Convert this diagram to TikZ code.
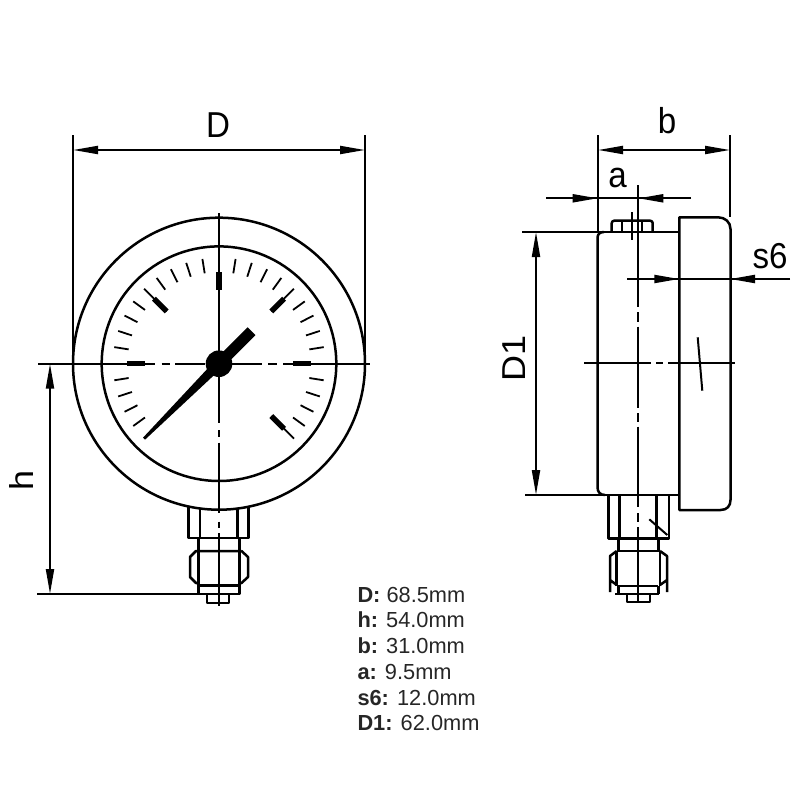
\documentclass[tikz,border=0pt]{standalone}
\usepackage{fontspec}
\setmainfont{Liberation Sans}
\usetikzlibrary{arrows.meta,calc}
\tikzset{
  x=1pt,y=-1pt,
  part/.style={line width=2.5pt,line join=round},
  thinpart/.style={line width=2pt,line join=round},
  axis/.style={line width=2pt},
  dimline/.style={line width=2pt,{Triangle[length=25pt,width=8pt]}-{Triangle[length=25pt,width=8pt]}},
  extline/.style={line width=2pt},
  outarrow/.style={line width=2pt,-{Triangle[length=25pt,width=8pt]}},
  dimtext/.style={font=\fontsize{36}{36}\selectfont,inner sep=0pt,anchor=base,xscale=.92},
  spec/.style={font=\fontsize{21.8}{21.8}\selectfont,inner sep=0pt,anchor=base west,text=black!85},
  tick/.style={line width=1.8pt},
  major/.style={line width=5.5pt},
}
\begin{document}
\begin{tikzpicture}
\useasboundingbox (0,0) rectangle (800,800);
% named points
\coordinate (c) at (219,363.7);
\coordinate (dl) at (73,150); \coordinate (dr) at (365,150);
\coordinate (hT) at (50,363.7); \coordinate (hB) at (50,594);
\coordinate (bl) at (598,150); \coordinate (br) at (730,150);
\coordinate (aL) at (597.7,198.3); \coordinate (aR) at (638.3,198.3);
\coordinate (aLo) at (546,198.3); \coordinate (aRo) at (691,198.3);
\coordinate (sL) at (679.3,279); \coordinate (sR) at (730,279);
\coordinate (sLo) at (627,279); \coordinate (sRo) at (790,279);
\coordinate (d1T) at (536,232); \coordinate (d1B) at (536,495);

% ---------- front view
\draw[part] (c) circle[radius=146];
\draw[part] (c) circle[radius=117.3];
\begin{scope}[shift={(c)}]
  \foreach \a in {-126,-117,-108,-99,-81,-72,-63,-54,-36,-27,-18,-9,9,18,27,36,54,63,72,81,99,108,117,126}
    \draw[tick] ({91.5*sin(\a)},{-91.5*cos(\a)}) -- ({106*sin(\a)},{-106*cos(\a)});
  \foreach \a in {-90,-45,45,90,135,0}
    \draw[tick] ({74*sin(\a)},{-74*cos(\a)}) -- ({106*sin(\a)},{-106*cos(\a)});
  \foreach \a in {-90,-45,0,45,90,135}
    \draw[major] ({74*sin(\a)},{-74*cos(\a)}) -- ({92*sin(\a)},{-92*cos(\a)});
  \fill (-74,76) -- (-76,74) -- (-13,6.6) -- (-3.9,-3.9) -- (28.6,-36.4) -- (36.4,-28.6) -- (3.9,3.9) -- (-6.6,13) -- cycle;
  \fill (0,0) circle[radius=13.3];
\end{scope}
% front axes
\draw[axis] (38,363.7) -- (155,363.7) (161.7,363.7) -- (170,363.7) (175,363.7) -- (205,363.7)
            (232,363.7) -- (261.7,363.7) (268,363.7) -- (276.7,363.7) (283,363.7) -- (370,363.7);
\draw[axis] (219,213) -- (219,422.7) (219,430) -- (219,436.7) (219,442.7) -- (219,513)
            (219,521.7) -- (219,528) (219,533) -- (219,606);
% front connector
\draw[part] (188.7,506.5) -- (188.7,538) -- (248.7,538) -- (248.7,506.5);
\draw[part] (200,508.5) -- (200,538) (237.3,508.5) -- (237.3,538);
\draw[part] (198.3,538) -- (198.3,594) -- (239.3,594) -- (239.3,538);
\draw[part] (196,551) -- (241.5,551) (198.3,551) -- (196,551) -- (190,557) -- (190,577) -- (196,583) -- (198.3,583)
            (241.5,551) -- (248,557) -- (248,577) -- (241.5,583) -- (238,583);
\draw[part] (198.3,585.5) -- (239.3,585.5);
\draw[part] (207,594) -- (207,603) -- (229,603) -- (229,594);

% ---------- side view
\draw[part] (604,232) .. controls (600,232) and (597.5,234) .. (597.5,238) -- (597.5,487) .. controls (597.5,492) and (600,495) .. (605,495);
\draw[part] (522,232) -- (679.3,232) (525,495) -- (679.3,495);
\draw[part] (679.3,510) -- (720.5,510) .. controls (727,510) and (730.5,506) .. (730.5,500) -- (730.5,229) .. controls (730.5,222) and (725,217.3) .. (718,217.3) -- (679.3,217.3) -- cycle;
% top nut
\draw[part,rounded corners=2.5pt] (611.7,232) -- (611.7,220.7) -- (652.7,220.7) -- (652.7,232);
\draw[thinpart] (621.7,221) -- (621.7,232) (642.3,221) -- (642.3,232);
\draw[thinpart] (631.7,212) -- (631.7,240);
% side axes
\draw[axis] (638.3,185) -- (638.3,306.7) (638.3,312) -- (638.3,322) (638.3,326.7) -- (638.3,407.7)
            (638.3,413) -- (638.3,422) (638.3,426.7) -- (638.3,507) (638.3,513) -- (638.3,522) (638.3,527) -- (638.3,602);
\draw[axis] (584,363.3) -- (650.7,363.3) (656,363.3) -- (663,363.3) (668,363.3) -- (735,363.3);
\draw[thinpart] (697.7,337.3) -- (702.3,390.7);
% side connector
\draw[part] (608.3,495) -- (608.3,538.3) -- (669,538.3) -- (669,495);
\draw[part] (619.3,495) -- (619.3,538.3) (656.7,495) -- (656.7,538.3);
\draw[thinpart] (649.3,519.3) -- (667.3,535);
\draw[part] (618.3,538.3) -- (618.3,551) (658.3,538.3) -- (658.3,551) (616.7,551) -- (660,551);
\draw[part] (616.7,551) -- (616.7,586) (660,551) -- (660,586);
\draw[part] (616.7,551) -- (610,556 ) -- (610,592) (610,580) -- (616.7,585)
            (660,551) -- (667,556) -- (667,592) (667,580) -- (660,585);
\draw[part] (618.3,586) -- (618.3,594) (658.3,586) -- (658.3,594) (618.3,586) -- (658.3,586) (615,594) -- (659,594);
\draw[part] (627,594) -- (627,602) -- (650,602) -- (650,594);

% ---------- dimensions
\draw[extline] (73,135) -- (73,363.7) (365,135) -- (365,363.7);
\draw[dimline] (dl) -- (dr);
\node[dimtext] (labD) at (218,137) {D};
\draw[extline] (38,363.7) -- (73,363.7) (37,594) -- (198.3,594);
\draw[dimline] (hT) -- (hB);
\node[dimtext,rotate=90] (labh) at (33,480) {h};
\draw[extline] (598,135) -- (598,232) (730,135) -- (730,217.3);
\draw[dimline] (bl) -- (br);
\node[dimtext] (labb) at (667,133) {b};
\draw[extline] (aLo) -- (aRo);
\draw[outarrow] (aLo) -- (aL);
\draw[outarrow] (aRo) -- (aR);
\node[dimtext] (laba) at (617.5,187) {a};
\draw[extline] (sLo) -- (sRo);
\draw[outarrow] (sLo) -- (sL);
\draw[outarrow] (sRo) -- (sR);
\node[dimtext] (labs) at (770,268) {s6};
\draw[dimline] (d1T) -- (d1B);
\node[dimtext,rotate=90] (labd1) at (525.7,358) {D1};

% ---------- table
\node[spec] (t1) at (357.3,602) {\textbf{D:} 68.5mm};
\node[spec] (t2) at (357.3,627.5) {\textbf{h:} 54.0mm};
\node[spec] (t3) at (357.3,653) {\textbf{b:} 31.0mm};
\node[spec] (t4) at (357.3,679) {\textbf{a:} 9.5mm};
\node[spec] (t5) at (357.3,705) {\textbf{s6:} 12.0mm};
\node[spec] (t6) at (357.3,730.5) {\textbf{D1:} 62.0mm};
\end{tikzpicture}
\end{document}
